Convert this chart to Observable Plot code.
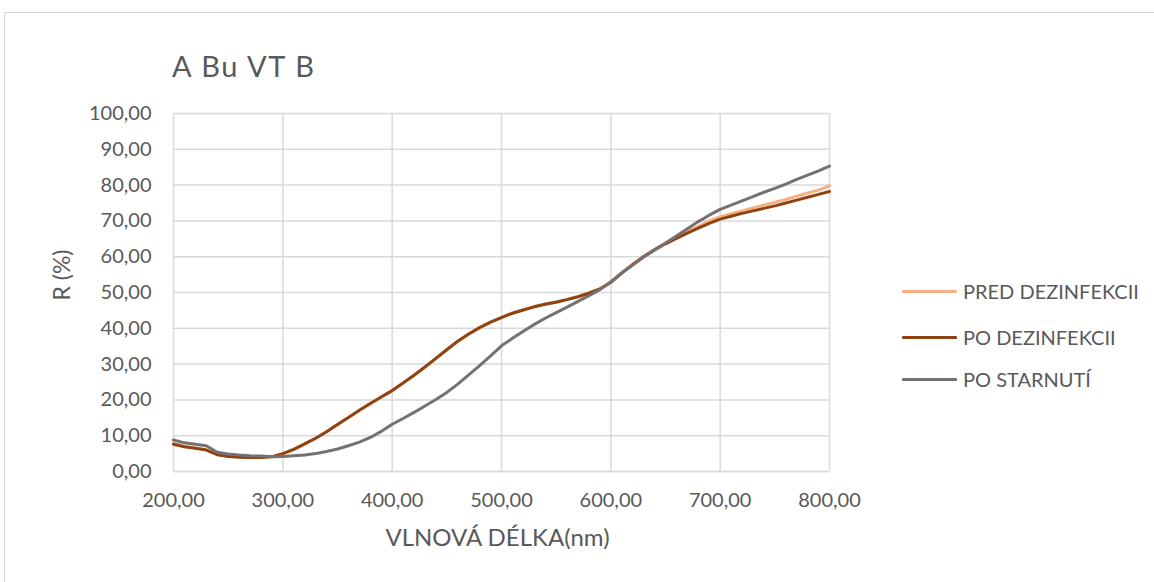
<!DOCTYPE html>
<html>
<head>
<meta charset="utf-8">
<script src="https://cdn.jsdelivr.net/npm/d3@7"></script>
<script src="https://cdn.jsdelivr.net/npm/@observablehq/plot@0.6"></script>
<style>
  html, body { margin: 0; padding: 0; background: #fff; }
  #wrap { position: relative; width: 1154px; height: 582px; overflow: hidden; font-family: Lato, "Open Sans", sans-serif; color: #595959; }
  #frame { position: absolute; left: 4px; top: 12px; width: 1200px; height: 700px; border: 1.5px solid #D9D9D9; box-sizing: border-box; }
  #title { position: absolute; left: 172px; top: 48px; font-size: 29px; letter-spacing: 1.6px; color: #595959; white-space: nowrap; }
  #chart { position: absolute; left: 0; top: 0; }
  .leg { position: absolute; left: 902px; height: 30px; display: flex; align-items: center; font-size: 20px; color: #595959; white-space: nowrap; }
  .leg .sw { width: 55px; height: 3px; margin-right: 6px; border-radius: 1px; }
</style>
</head>
<body>
<div id="wrap">
  <div id="frame"></div>
  <div id="title">A Bu VT B</div>
  <div id="chart"></div>
  <div id="legend"></div>
</div>
<script>
// Wavelengths (nm)
const wavelengths = [200,210,220,230,240,250,260,270,280,290,300,310,320,330,340,350,360,370,380,390,400,410,420,430,440,450,460,470,480,490,500,510,520,530,540,550,560,570,580,590,600,610,620,630,640,650,660,670,680,690,700,710,720,730,740,750,760,770,780,790,800];

// R (%) series
const predDezinfekcii = [7.8,7.0,6.6,6.1,4.8,4.3,4.1,4.0,4.0,4.2,5.0,6.2,7.7,9.3,11.1,13.1,15.1,17.1,19.0,20.8,22.6,24.7,26.9,29.2,31.6,34.1,36.4,38.4,40.2,41.7,43.1,44.3,45.2,46.1,46.8,47.4,48.1,48.9,49.9,51.1,52.9,55.5,57.9,60.1,62.0,63.7,65.4,67.0,68.5,70.0,71.2,72.0,72.8,73.6,74.4,75.2,76.0,76.9,77.8,78.6,79.8];
const poDezinfekcii = [7.6,6.9,6.5,6.0,4.7,4.2,4.0,3.9,3.9,4.1,5.0,6.2,7.7,9.3,11.1,13.1,15.1,17.1,19.0,20.8,22.6,24.7,26.9,29.2,31.6,34.0,36.4,38.4,40.2,41.7,43.0,44.2,45.1,46.0,46.7,47.3,48.0,48.8,49.8,51.0,52.8,55.4,57.8,60.0,61.9,63.6,65.1,66.6,68.0,69.3,70.5,71.3,72.1,72.8,73.5,74.2,75.0,75.8,76.6,77.4,78.2];
const poStarnuti = [8.8,8.0,7.6,7.2,5.4,4.9,4.6,4.4,4.3,4.1,4.2,4.4,4.6,5.0,5.6,6.3,7.2,8.2,9.5,11.2,13.2,14.8,16.5,18.3,20.1,22.1,24.4,27.0,29.6,32.3,35.1,37.2,39.2,41.1,42.8,44.4,45.9,47.5,49.1,50.8,53.0,55.5,57.7,59.9,61.9,63.8,65.8,67.8,69.8,71.6,73.2,74.4,75.6,76.8,78.0,79.1,80.3,81.6,82.8,84.0,85.3];

const seriesNames = ["PRED DEZINFEKCII", "PO DEZINFEKCII", "PO STARNUTÍ"];
const seriesColors = ["#F4B183", "#8F4212", "#767171"];
const xTicks = [200,300,400,500,600,700,800];
const yTicks = [0,10,20,30,40,50,60,70,80,90,100];
const xTitle = "VLNOVÁ DÉLKA(nm)";
const yTitle = "R (%)";

const seriesValues = [predDezinfekcii, poDezinfekcii, poStarnuti];
const rows = seriesValues.map((vals, s) => wavelengths.map((w, i) => ({nm: w, r: vals[i], s: seriesNames[s]})));

const fmt = d => d.toFixed(2).replace(".", ",");
const font = "Lato, 'Open Sans', sans-serif";

const chart = Plot.plot({
  width: 1154,
  height: 582,
  marginLeft: 173,
  marginRight: 325,
  marginTop: 113,
  marginBottom: 111,
  style: {fontFamily: font, fontSize: "20px", color: "#595959", background: "transparent"},
  x: {domain: [200, 800]},
  y: {domain: [0, 100]},
  marks: [
    Plot.gridX(xTicks, {stroke: "#D9D9D9", strokeOpacity: 1, strokeWidth: 1.5}),
    Plot.gridY(yTicks, {stroke: "#D9D9D9", strokeOpacity: 1, strokeWidth: 1.5}),
    Plot.ruleY([0], {stroke: "#D9D9D9", strokeWidth: 1.5}),
    Plot.axisX(xTicks, {tickSize: 0, tickPadding: 21, tickFormat: fmt, fontSize: 20, fill: "#595959", label: null}),
    Plot.axisY(yTicks, {tickSize: 0, tickPadding: 22, tickFormat: fmt, fontSize: 20, fill: "#595959", label: null}),
    Plot.text([xTitle], {frameAnchor: "bottom", dx: -4, dy: 74, fontSize: 24, fill: "#595959", letterSpacing: 1}),
    Plot.text([yTitle], {frameAnchor: "left", dx: -111, dy: 8, rotate: -90, fontSize: 23, fill: "#595959", letterSpacing: 1}),
    ...rows.map((d, s) => Plot.line(d, {x: "nm", y: "r", stroke: seriesColors[s], strokeWidth: 3, curve: "linear"}))
  ]
});
document.getElementById("chart").appendChild(chart);

const legend = document.getElementById("legend");
const legendTops = [276, 322, 364];
seriesNames.forEach((name, i) => {
  const row = document.createElement("div");
  row.className = "leg";
  row.style.top = legendTops[i] + "px";
  const sw = document.createElement("div");
  sw.className = "sw";
  sw.style.background = seriesColors[i];
  const tx = document.createElement("span");
  tx.textContent = name;
  row.appendChild(sw);
  row.appendChild(tx);
  legend.appendChild(row);
});
</script>
</body>
</html>
